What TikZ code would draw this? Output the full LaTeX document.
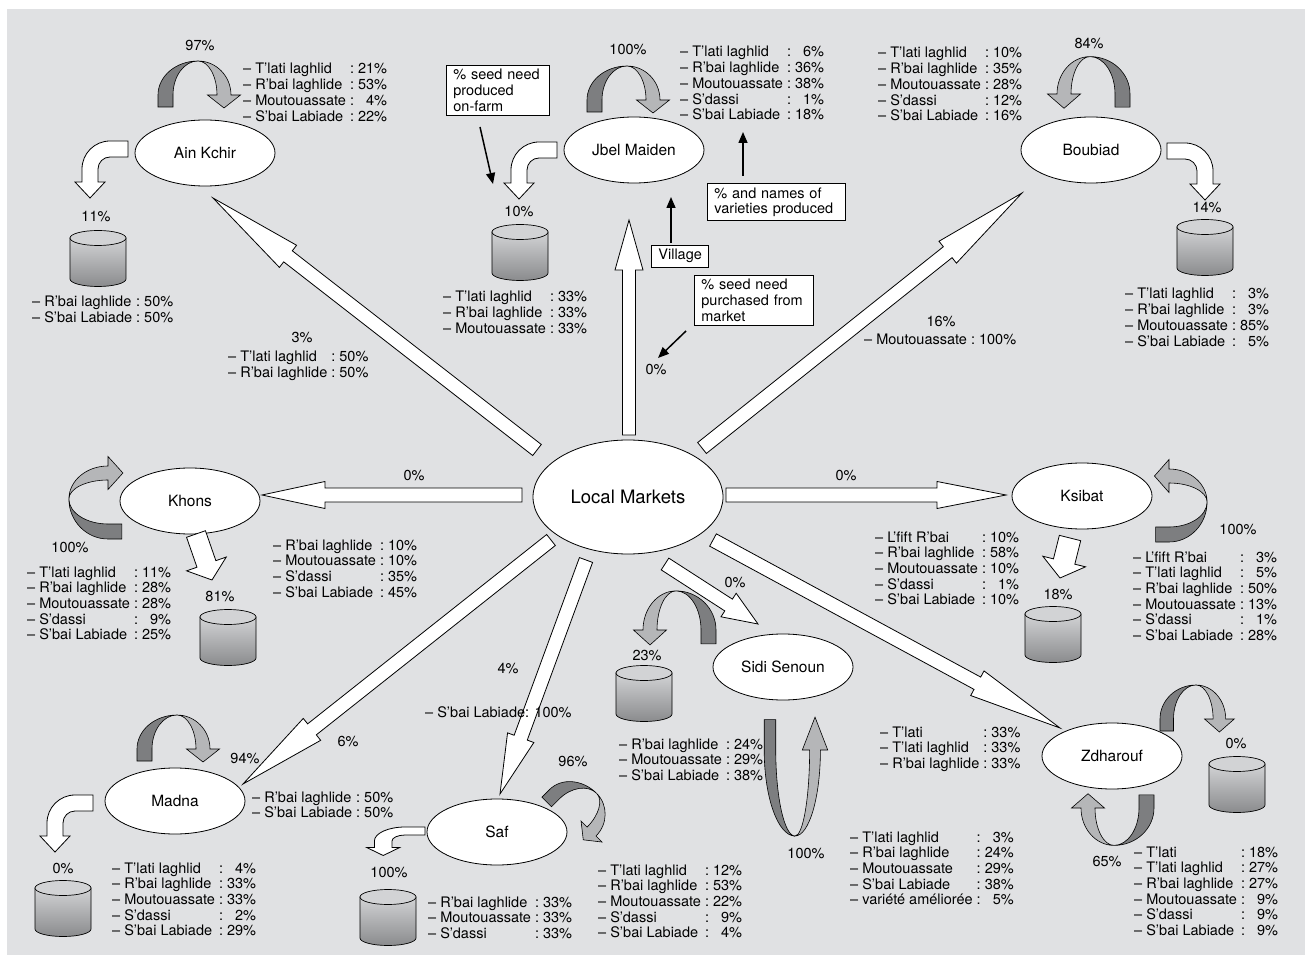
\documentclass[tikz,border=0pt]{standalone}
\usepackage{fontspec}
\setmainfont{TeX Gyre Heros}
\usetikzlibrary{calc,shapes.geometric,arrows.meta}

\definecolor{bggray}{RGB}{224,225,227}
\definecolor{loopdark}{RGB}{125,126,128}
\definecolor{looplight}{RGB}{181,182,184}
\definecolor{cyltop}{RGB}{210,211,213}
\definecolor{cylbot}{RGB}{138,139,141}

\tikzset{
  village/.style={ellipse, draw, fill=white, line width=0.8pt, minimum width=140pt, minimum height=66pt, inner sep=0pt, font=\fontsize{15.5}{17}\selectfont},
  market/.style={village, minimum width=190pt, minimum height=114pt, font=\fontsize{18.5}{20}\selectfont},
  varlist/.style={anchor=base west, inner sep=0pt},
  pct/.style={inner sep=0pt},
  notebox/.style={draw, fill=white, line width=0.8pt, align=left, anchor=north west, inner xsep=7pt, inner ysep=4pt},
  pointer/.style={->, line width=1.5pt},
}

% list of varieties: name & share
\newcommand\vlist[1]{\begin{tabular}[t]{@{}l@{\ :\ }r@{}}#1\end{tabular}}

% white block arrow: shaft half width, head half width, head length, from, to
\newcommand\fatarrow[5]{%
  \coordinate (fa-head) at ($(#5)!#3pt!(#4)$);
  \draw[line width=0.8pt, fill=white] ($(#4)!#1pt!90:(#5)$) -- ($(fa-head)!#1pt!90:(#5)$) -- ($(fa-head)!#2pt!90:(#5)$) -- (#5) -- ($(fa-head)!#2pt!-90:(#5)$) -- ($(fa-head)!#1pt!-90:(#5)$) -- ($(#4)!#1pt!-90:(#5)$) -- cycle;}

% seed kept on-farm (grey ribbon)
\newcommand\seedloop[2][]{%
  \begin{scope}[shift={(#2)}, #1, line width=0.6pt]
    \filldraw[fill=loopdark] (-40,12) -- (-40,0) arc[start angle=180, end angle=270, x radius=40, y radius=34] arc[start angle=270, end angle=180, x radius=25, y radius=34] -- (-25,12) -- cycle;
    \filldraw[fill=looplight] (0,-34) arc[start angle=270, end angle=360, x radius=33, y radius=34] -- (42.5,0) -- (26,13) -- (9.5,0) -- (19,0) arc[start angle=0, end angle=-90, x radius=19, y radius=34] -- cycle;
  \end{scope}}

% bent arrow to the store
\newcommand\storearrow[2][]{%
  \begin{scope}[shift={(#2)}, #1]
    \draw[line width=0.8pt, fill=white] (0,0) -- (-18,0) arc[start angle=270, end angle=180, radius=28] -- (-46,41) -- (-53,41) -- (-38,57) -- (-23,41) -- (-30,41) -- (-30,28) arc[start angle=180, end angle=270, radius=12] -- (0,16) -- cycle;
  \end{scope}}

% seed store
\newcommand\storecyl[1]{%
  \begin{scope}[shift={(#1)}]
    \draw[line width=0.7pt, top color=cyltop, bottom color=cylbot] (-28,0) -- (-28,41) arc[start angle=180, end angle=0, x radius=28, y radius=7.5] -- (28,0) -- cycle;
    \draw[line width=0.7pt, fill=cyltop] (0,0) ellipse[x radius=28, y radius=7.5];
  \end{scope}}

\begin{document}
\begin{tikzpicture}[x=1pt, y=-1pt, font=\fontsize{14.5}{15.7}\selectfont, >={Triangle[length=11pt,width=9pt]}]
  \useasboundingbox (0,0) rectangle (1312,965);
  \fill[bggray] (7,9) rectangle (1305,955); % background

  % markets to villages
  \coordinate (lm-ain) at (537,450);   \coordinate (ain-in) at (213,198);
  \coordinate (lm-jbel) at (629,435);  \coordinate (jbel-in) at (629,220);
  \coordinate (lm-boub) at (702,448);  \coordinate (boub-in) at (1022,193);
  \coordinate (lm-khons) at (522,495); \coordinate (khons-in) at (262,495);
  \coordinate (lm-ksib) at (726,495);  \coordinate (ksib-in) at (1006,495);
  \coordinate (lm-madna) at (551,540); \coordinate (madna-in) at (243,784);
  \coordinate (lm-saf) at (586,560);   \coordinate (saf-in) at (500,794);
  \coordinate (lm-sidi) at (665,564);  \coordinate (sidi-in) at (758,624);
  \coordinate (lm-zdh) at (713,540);   \coordinate (zdh-in) at (1060,728);
  \fatarrow{7}{14}{95}{lm-ain}{ain-in}
  \fatarrow{6.5}{14}{50}{lm-jbel}{jbel-in}
  \fatarrow{7}{14}{95}{lm-boub}{boub-in}
  \fatarrow{7}{13.5}{63}{lm-khons}{khons-in}
  \fatarrow{7}{13.5}{69}{lm-ksib}{ksib-in}
  \fatarrow{7}{14}{88}{lm-madna}{madna-in}
  \fatarrow{7}{14}{60}{lm-saf}{saf-in}
  \fatarrow{7}{14}{35}{lm-sidi}{sidi-in}
  \fatarrow{7}{14}{94}{lm-zdh}{zdh-in}

  \node[market] (lm) at (628,497) {Local Markets};
  \node[village] (ain) at (205,153) {Ain Kchir};
  \node[village] (jbel) at (634,150) {Jbel Maiden};
  \node[village] (boub) at (1091,150) {Boubiad};
  \node[village] (khons) at (190,501) {Khons};
  \node[village] (ksib) at (1082,496) {Ksibat};
  \node[village] (sidi) at (783,667) {Sidi Senoun};
  \node[village] (zdh) at (1112,756) {Zdharouf};
  \node[village] (madna) at (175,801) {Madna};
  \node[village] (saf) at (497,832) {Saf};

  % seed kept on-farm
  \seedloop{198,95}
  \seedloop{627,100}
  \seedloop[xscale=-1, yscale=1.1]{1090,94}
  \seedloop[rotate=90, yscale=1.15]{108,499}
  \seedloop[xscale=-1, rotate=90, yscale=1.12]{1169,502}
  \seedloop[xscale=-1, yscale=1.15]{676,630}
  \seedloop[xscale=0.77, yscale=-2.53]{795,750}
  \seedloop{177,749}
  \seedloop[rotate=-45, scale=0.9]{575,815}
  \seedloop[xscale=0.9]{1196,719}
  \seedloop[rotate=180, yscale=1.1]{1114,808}

  % seed put in store
  \storearrow{128,141}
  \storearrow{557,142}
  \storearrow[xscale=-1]{1167,143}
  \storearrow{93,795}
  \storearrow[xscale=1.1, yscale=0.5]{425,827}
  \coordinate (khons-out) at (196,534); \coordinate (khons-cyl) at (212,580);
  \fatarrow{10}{21}{17}{khons-out}{khons-cyl}
  \coordinate (ksib-out) at (1070,538); \coordinate (ksib-cyl) at (1060,578);
  \fatarrow{11}{22}{17}{ksib-out}{ksib-cyl}

  \storecyl{98,238}
  \storecyl{520,232}
  \storecyl{1205,227}
  \storecyl{228,617}
  \storecyl{1053,614}
  \storecyl{644,673}
  \storecyl{1237,764}
  \storecyl{63,888}
  \storecyl{388,897}

  % Ain Kchir
  \node[pct] (ain-pown) at (200,46) {97\%};
  \node[varlist] (ain-own) at (243,74) {\vlist{– T’lati laghlid & 21\%\\ – R’bai laghlide & 53\%\\ – Moutouassate & 4\%\\ – S’bai Labiade & 22\%}};
  \node[pct] (ain-pst) at (96,217) {11\%};
  \node[varlist] (ain-st) at (32,307) {\vlist{– R’bai laghlide & 50\%\\ – S’bai Labiade & 50\%}};
  \node[pct] (ain-pmk) at (302,338) {3\%};
  \node[varlist] (ain-mk) at (228,362) {\vlist{– T’lati laghlid & 50\%\\ – R’bai laghlide & 50\%}};

  % Jbel Maiden
  \node[pct] (jbel-pown) at (628,50) {100\%};
  \node[varlist] (jbel-own) at (680,57) {\vlist{– T’lati laghlid & 6\%\\ – R’bai laghlide & 36\%\\ – Moutouassate & 38\%\\ – S’dassi & 1\%\\ – S’bai Labiade & 18\%}};
  \node[pct] (jbel-pst) at (519,212) {10\%};
  \node[varlist] (jbel-st) at (443,302) {\vlist{– T’lati laghlid & 33\%\\ – R’bai laghlide & 33\%\\ – Moutouassate & 33\%}};
  \node[pct] (jbel-pmk) at (656,370) {0\%};

  % Boubiad
  \node[pct] (boub-pown) at (1089,44) {84\%};
  \node[varlist] (boub-own) at (878,58) {\vlist{– T’lati laghlid & 10\%\\ – R’bai laghlide & 35\%\\ – Moutouassate & 28\%\\ – S’dassi & 12\%\\ – S’bai Labiade & 16\%}};
  \node[pct] (boub-pst) at (1207,208) {14\%};
  \node[varlist] (boub-st) at (1125,299) {\vlist{– T’lati laghlid & 3\%\\ – R’bai laghlide & 3\%\\ – Moutouassate & 85\%\\ – S’bai Labiade & 5\%}};
  \node[pct] (boub-pmk) at (941,322) {16\%};
  \node[varlist] (boub-mk) at (864,345) {\vlist{– Moutouassate & 100\%}};

  % Khons
  \node[pct] (khons-pown) at (70,548) {100\%};
  \node[varlist] (khons-own) at (27,577) {\vlist{– T’lati laghlid & 11\%\\ – R’bai laghlide & 28\%\\ – Moutouassate & 28\%\\ – S’dassi & 9\%\\ – S’bai Labiade & 25\%}};
  \node[pct] (khons-pst) at (220,597) {81\%};
  \node[pct] (khons-pmk) at (414,476) {0\%};
  \node[varlist] (khons-mk) at (273,550) {\vlist{– R’bai laghlide & 10\%\\ – Moutouassate & 10\%\\ – S’dassi & 35\%\\ – S’bai Labiade & 45\%}};

  % Ksibat
  \node[pct] (ksib-pown) at (1238,530) {100\%};
  \node[varlist] (ksib-own) at (1133,562) {\vlist{– L’fift R’bai & 3\%\\ – T’lati laghlid & 5\%\\ – R’bai laghlide & 50\%\\ – Moutouassate & 13\%\\ – S’dassi & 1\%\\ – S’bai Labiade & 28\%}};
  \node[pct] (ksib-pst) at (1058,595) {18\%};
  \node[pct] (ksib-pmk) at (846,476) {0\%};
  \node[varlist] (ksib-mk) at (875,542) {\vlist{– L’fift R’bai & 10\%\\ – R’bai laghlide & 58\%\\ – Moutouassate & 10\%\\ – S’dassi & 1\%\\ – S’bai Labiade & 10\%}};

  % Sidi Senoun
  \node[pct] (sidi-pmk) at (735,583) {0\%};
  \node[pct] (sidi-pst) at (647,656) {23\%};
  \node[varlist] (sidi-st) at (619,749) {\vlist{– R’bai laghlide & 24\%\\ – Moutouassate & 29\%\\ – S’bai Labiade & 38\%}};
  \node[pct] (sidi-pown) at (806,853) {100\%};
  \node[varlist] (sidi-own) at (850,842) {\vlist{– T’lati laghlid & 3\%\\ – R’bai laghlide & 24\%\\ – Moutouassate & 29\%\\ – S’bai Labiade & 38\%\\ – variété améliorée & 5\%}};

  % Zdharouf
  \node[varlist] (zdh-mk) at (880,737) {\vlist{– T’lati & 33\%\\ – T’lati laghlid & 33\%\\ – R’bai laghlide & 33\%}};
  \node[pct] (zdh-pst) at (1236,744) {0\%};
  \node[pct] (zdh-pown) at (1107,861) {65\%};
  \node[varlist] (zdh-own) at (1134,857) {\vlist{– T’lati & 18\%\\ – T’lati laghlid & 27\%\\ – R’bai laghlide & 27\%\\ – Moutouassate & 9\%\\ – S’dassi & 9\%\\ – S’bai Labiade & 9\%}};

  % Madna
  \node[pct] (madna-pmk) at (348,742) {6\%};
  \node[varlist] (madna-mk) at (252,802) {\vlist{– R’bai laghlide & 50\%\\ – S’bai Labiade & 50\%}};
  \node[pct] (madna-pown) at (245,759) {94\%};
  \node[varlist] (madna-own) at (112,873) {\vlist{– T’lati laghlid & 4\%\\ – R’bai laghlide & 33\%\\ – Moutouassate & 33\%\\ – S’dassi & 2\%\\ – S’bai Labiade & 29\%}};
  \node[pct] (madna-pst) at (63,868) {0\%};

  % Saf
  \node[pct] (saf-pmk) at (508,669) {4\%};
  \node[varlist] (saf-mk) at (425,717) {– S’bai Labiade: 100\%};
  \node[pct] (saf-pown) at (573,762) {96\%};
  \node[varlist] (saf-own) at (598,875) {\vlist{– T’lati laghlid & 12\%\\ – R’bai laghlide & 53\%\\ – Moutouassate & 22\%\\ – S’dassi & 9\%\\ – S’bai Labiade & 4\%}};
  \node[pct] (saf-pst) at (389,872) {100\%};
  \node[varlist] (saf-st) at (428,907) {\vlist{– R’bai laghlide & 33\%\\ – Moutouassate & 33\%\\ – S’dassi & 33\%}};

  % key
  \node[notebox, text width=89pt] (notefarm) at (446,65) {\% seed need\\produced\\on-farm};
  \node[notebox, text width=124pt] (notevar) at (707,183) {\% and names of\\varieties produced};
  \node[notebox, text width=43pt] (notevil) at (651,245) {Village};
  \node[notebox, text width=105pt] (notemkt) at (694,275) {\% seed need\\purchased from\\market};
  \coordinate (farm-from) at (480,127); \coordinate (farm-to) at (493,184);
  \coordinate (var-from) at (743,176);  \coordinate (var-to) at (743,132);
  \coordinate (vil-from) at (671,243);  \coordinate (vil-to) at (671,197);
  \coordinate (mkt-from) at (686,331);  \coordinate (mkt-to) at (658,358);
  \draw[pointer] (farm-from) -- (farm-to);
  \draw[pointer] (var-from) -- (var-to);
  \draw[pointer] (vil-from) -- (vil-to);
  \draw[pointer] (mkt-from) -- (mkt-to);
\end{tikzpicture}
\end{document}
